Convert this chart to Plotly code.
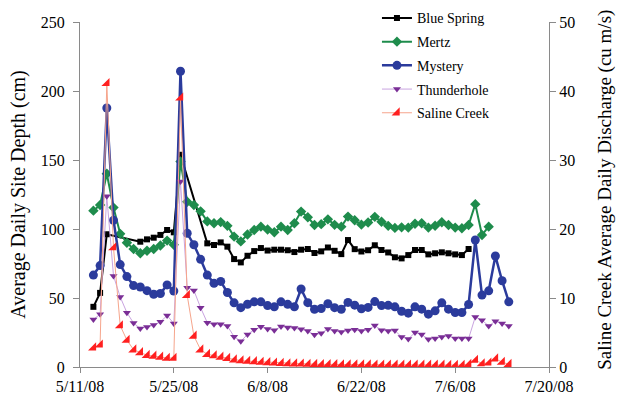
import plotly.graph_objects as go
import pandas as pd

# daily dates 5/13/08 .. 7/15/08
dates = pd.date_range("2008-05-13", periods=63).strftime("%Y-%m-%d").tolist()

tick_dates = ["2008-05-11", "2008-05-25", "2008-06-08", "2008-06-22", "2008-07-06", "2008-07-20"]
tick_labels = ["5/11/08", "5/25/08", "6/8/08", "6/22/08", "7/6/08", "7/20/08"]
left_ticks = [0, 50, 100, 150, 200, 250]
right_ticks = [0, 10, 20, 30, 40, 50]

N = None
blue_spring = [43.6, 53.7, 96.2, N, N, N, N, 90.8, 92.5, 93.7, 95.7, 99.3, 97.6, 153.8,
               N, N, N, 89.6, 88.4, 90.3, 87.2, 78.2, 75.8, 80.6, 84.0, 86.2, 84.4, 85.0,
               85.0, 84.6, 83.3, 85.0, 85.5, 82.6, 83.8, 86.6, 84.2, 81.8, 92.0, 85.4, 83.7,
               84.6, 88.2, 84.8, 83.0, 79.5, 78.7, 81.1, 84.8, 84.8, 81.6, 82.4, 83.1, 82.4,
               81.6, 81.1, 85.5, N, N, N, N, N, N]
mertz = [113.3, 117.4, 140.0, 115.5, 96.5, 90.0, 85.5, 82.4, 84.2, 85.5, 88.0, 91.6, 88.6,
         148.9, 119.8, 117.4, 112.8, 105.5, 104.2, 105.0, 102.3, 94.5, 91.0, 96.0, 99.3,
         101.7, 99.6, 97.6, 101.7, 99.3, 104.2, 112.6, 108.5, 102.9, 103.5, 107.0, 103.0,
         101.7, 109.0, 106.3, 103.2, 104.7, 108.8, 105.3, 102.3, 100.8, 101.2, 101.0, 103.8,
         104.2, 101.0, 102.4, 104.9, 102.9, 101.0, 100.5, 102.9, 118.0, 95.7, 101.7, N, N, N]
mystery = [66.6, 73.5, 187.7, 106.3, 74.2, 65.5, 59.0, 58.0, 55.3, 52.7, 53.3, 59.5, 55.1,
           214.3, 96.9, 88.6, 78.0, 66.6, 60.6, 62.0, 54.0, 46.5, 43.0, 45.5, 47.2, 47.2,
           44.5, 43.6, 47.2, 45.4, 43.6, 56.5, 46.6, 41.8, 42.4, 45.8, 43.0, 41.8, 46.8, 44.8,
           42.2, 43.2, 47.4, 44.5, 44.7, 43.6, 40.4, 39.0, 43.6, 41.9, 38.3, 40.7, 46.5, 41.9,
           39.5, 39.5, 45.3, 92.0, 52.1, 55.2, 80.4, 62.5, 47.2]
thunderhole = [34.5, 38.2, 123.7, 66.0, 50.8, 39.4, 31.8, 27.9, 29.0, 30.4, 32.7, 37.3, 31.5,
               134.4, 57.5, 55.5, 43.0, 32.1, 30.9, 30.9, 29.7, 22.0, 18.6, 23.6, 27.0, 29.1,
               27.5, 26.6, 29.3, 28.7, 28.3, 27.3, 26.0, 23.3, 24.5, 27.5, 26.0, 25.4, 26.4,
               27.0, 26.0, 27.0, 30.0, 26.7, 26.0, 26.4, 21.8, 20.3, 25.0, 23.5, 20.1, 20.6,
               21.8, 22.5, 20.6, 20.6, 20.6, 36.3, 33.9, 29.8, 33.2, 31.5, 29.8]
saline_creek = [2.8, 3.2, 41.1, 17.3, 6.0, 3.9, 2.5, 2.1, 1.7, 1.6, 1.45, 1.3, 1.3, 39.0, 10.4,
                4.5, 2.5, 1.85, 1.65, 1.45, 1.27, 1.05, 0.92, 0.85, 0.8, 0.72, 0.66, 0.6, 0.55,
                0.5, 0.47, 0.45, 0.42, 0.4, 0.38, 0.37, 0.36, 0.35, 0.35, 0.34, 0.33, 0.33,
                0.32, 0.32, 0.31, 0.31, 0.3, 0.3, 0.3, 0.3, 0.29, 0.29, 0.29, 0.28, 0.28, 0.28,
                0.4, 1.0, 0.5, 0.6, 1.2, 0.7, 0.4]

FONT = "Liberation Serif"
AXC = "#8a8a8a"

fig = go.Figure()
fig.add_trace(go.Scatter(x=dates, y=blue_spring, name="Blue Spring", mode="lines+markers",
                         connectgaps=True, legendgroup="a",
                         line=dict(color="black", width=2),
                         marker=dict(symbol="square", size=6, color="black")))
fig.add_trace(go.Scatter(x=dates, y=mertz, name="Mertz", mode="lines+markers",
                         connectgaps=True, legendgroup="b",
                         line=dict(color="#1e8c4c", width=2),
                         marker=dict(symbol="diamond", size=8, color="#1e8c4c")))
fig.add_trace(go.Scatter(x=dates, y=mystery, name="Mystery", mode="lines+markers",
                         connectgaps=True, legendgroup="c",
                         line=dict(color="#2b3b9c", width=2.5),
                         marker=dict(symbol="circle", size=9, color="#2b3b9c")))
fig.add_trace(go.Scatter(x=dates, y=thunderhole, name="Thunderhole", mode="lines+markers",
                         connectgaps=True, legendgroup="d",
                         line=dict(color="#c9a3e0", width=1),
                         marker=dict(symbol="triangle-down", size=7, color="#7a2e96")))
fig.add_trace(go.Scatter(x=dates, y=saline_creek, name="Saline Creek", mode="lines+markers",
                         connectgaps=True, legendgroup="e", yaxis="y2",
                         line=dict(color="#f6a58c", width=1),
                         marker=dict(symbol="triangle-se", size=9, color="#ff2020")))

fig.update_layout(
    width=620, height=394,
    margin=dict(l=80, r=71, t=22, b=27, autoexpand=False),
    paper_bgcolor="white", plot_bgcolor="white",
    font=dict(family=FONT, color="black", size=16),
    showlegend=True,
    legend=dict(x=0.608, y=0.994, xref="container", yref="container",
                xanchor="left", yanchor="top",
                bgcolor="rgba(0,0,0,0)", font=dict(family=FONT, size=14, color="black"),
                tracegroupgap=2.5),
    xaxis=dict(range=["2008-05-11", "2008-07-20"], tickvals=tick_dates, ticktext=tick_labels,
               ticks="outside", ticklen=5, tickcolor=AXC, showline=True, linecolor=AXC,
               linewidth=1, showgrid=False, zeroline=False, tickfont=dict(size=16)),
    yaxis=dict(range=[0, 250], tickvals=left_ticks, ticks="outside", ticklen=6,
               tickcolor=AXC, showline=True, linecolor=AXC, linewidth=1, showgrid=False,
               zeroline=False, tickfont=dict(size=16), ticklabelstandoff=5,
               title=dict(text="Average Daily Site Depth (cm)", font=dict(size=20), standoff=9)),
    yaxis2=dict(range=[0, 50], tickvals=right_ticks, overlaying="y", side="right",
                ticks="outside", ticklen=6, tickcolor=AXC, showline=True, linecolor=AXC,
                linewidth=1, showgrid=False, zeroline=False, tickfont=dict(size=16)),
    annotations=[dict(text="Saline Creek Average Daily Discharge (cu m/s)",
                      xref="paper", yref="paper", x=1.119, y=0.513,
                      xanchor="center", yanchor="middle", textangle=-90, showarrow=False,
                      font=dict(family=FONT, size=19, color="black"))],
)

fig.write_html("out.html", config={"displayModeBar": False},
               post_script="document.body.style.margin='0px';")
